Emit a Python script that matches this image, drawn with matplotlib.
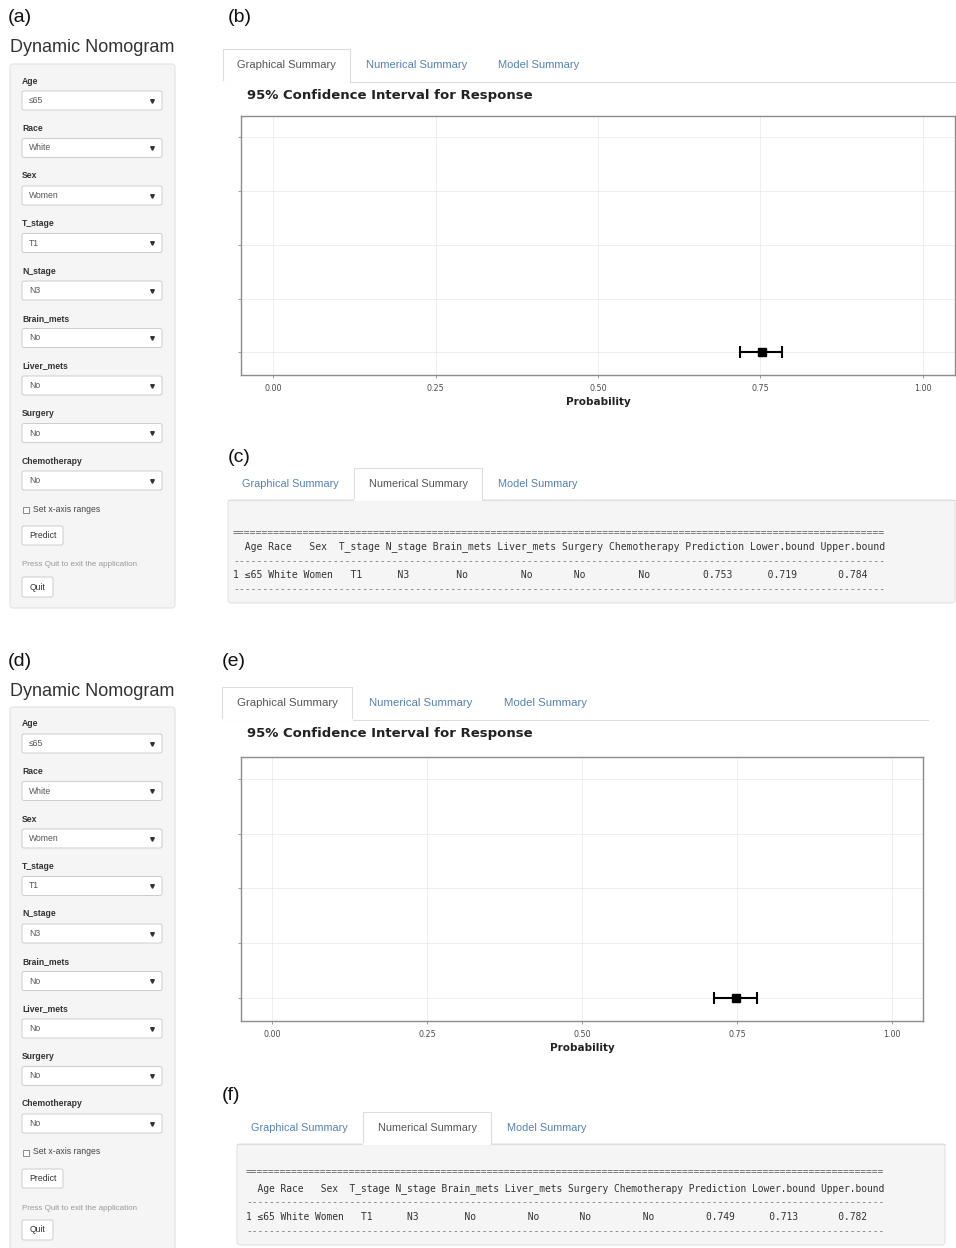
import numpy as np
import matplotlib.pyplot as plt
from matplotlib.patches import FancyBboxPatch, Rectangle

W, H = 956, 1248
SANS = ["Liberation Sans", "DejaVu Sans"]
MONO = ["DejaVu Sans Mono", "DejaVu Sans"]

# ---- app inputs ----
input_labels = ["Age", "Race", "Sex", "T_stage", "N_stage",
                "Brain_mets", "Liver_mets", "Surgery", "Chemotherapy"]
input_values = ["≤65", "White", "Women", "T1", "N3", "No", "No", "No", "No"]
tab_names = ["Graphical Summary", "Numerical Summary", "Model Summary"]

# ---- prediction with 95% CI, one entry per run ----
prediction = [0.753, 0.749]
lower_bound = [0.719, 0.713]
upper_bound = [0.784, 0.782]

x_ticks = [0.00, 0.25, 0.50, 0.75, 1.00]
x_tick_labels = ["0.00", "0.25", "0.50", "0.75", "1.00"]
y_levels = [1, 2, 3, 4, 5]

fig = plt.figure(figsize=(W / 100, H / 100), dpi=100)
fig.patch.set_facecolor("white")

# full-page canvas in pixel units (y down)
cv = fig.add_axes([0, 0, 1, 1])
cv.set_xlim(0, W)
cv.set_ylim(H, 0)
cv.axis("off")


def px_axes(x0, y0, x1, y1):
    return fig.add_axes([x0 / W, 1 - y1 / H, (x1 - x0) / W, (y1 - y0) / H])


def rbox(x, y, w, h, fc, ec, lw=0.8, r=3, z=1):
    p = FancyBboxPatch((x, y), w, h, boxstyle=f"round,pad=0,rounding_size={r}",
                       fc=fc, ec=ec, lw=lw, zorder=z)
    cv.add_patch(p)
    return p


def panel_label(x, y, s):
    cv.text(x, y, s, fontsize=14, family=SANS, color="#111", va="center", ha="left")


# ---- sidebar ----
def sidebar(dy):
    cv.text(10, 48 + dy, "Dynamic Nomogram", fontsize=13, family=SANS,
            color="#333", va="center")
    rbox(10, 64 + dy, 165, 544, "#f5f5f5", "#e3e3e3")
    for i, (lab, val) in enumerate(zip(input_labels, input_values)):
        y = 81 + 47.5 * i + dy
        cv.text(22, y, lab, fontsize=6.2, fontweight="bold", family=SANS,
                color="#333", va="center", zorder=3)
        rbox(22, y + 10, 140, 19, "white", "#cccccc", lw=0.7, r=2, z=2)
        cv.text(29, y + 19.5, val, fontsize=6.2, family=SANS, color="#555",
                va="center", zorder=3)
        cv.plot([152], [y + 19.5], marker="v", ms=2.6, color="#333", zorder=3)
    cv.add_patch(Rectangle((23, 507 + dy), 6, 6, fc="white", ec="#777", lw=0.6, zorder=3))
    cv.text(33, 509 + dy, "Set x-axis ranges", fontsize=6.2, family=SANS,
            color="#444", va="center", zorder=3)
    rbox(22, 526 + dy, 41, 19, "white", "#cccccc", lw=0.7, r=2, z=2)
    cv.text(42.5, 535.5 + dy, "Predict", fontsize=6.2, family=SANS, color="#333",
            ha="center", va="center", zorder=3)
    cv.text(22, 565 + dy, "Press Quit to exit the application", fontsize=5.8,
            family=SANS, color="#999", va="center", zorder=3)
    rbox(22, 577 + dy, 31, 20, "white", "#cccccc", lw=0.7, r=2, z=2)
    cv.text(37.5, 587 + dy, "Quit", fontsize=6.2, family=SANS, color="#333",
            ha="center", va="center", zorder=3)


# ---- nav tabs ----
def tabs(left, top, bottom, right, s, active):
    widths = [127 * s, 130 * s, 110 * s]
    x = left
    cv.plot([left, right], [bottom, bottom], color="#dddddd", lw=0.8, zorder=2)
    for i, (name, w) in enumerate(zip(tab_names, widths)):
        if i == active:
            cv.plot([x, x, x + w, x + w], [bottom, top, top, bottom],
                    color="#dddddd", lw=0.8, zorder=3)
            cv.plot([x + 0.6, x + w - 0.6], [bottom, bottom], color="white",
                    lw=1.4, zorder=3)
            col = "#555555"
        else:
            col = "#5581b0"
        cv.text(x + w / 2, (top + bottom) / 2, name, fontsize=8 * s, family=SANS,
                color=col, ha="center", va="center", zorder=4)
        x += w + 2


# ---- CI plot ----
def ci_plot(box, k, title_y):
    cv.text(247, title_y, "95% Confidence Interval for Response", fontsize=9.5,
            fontweight="bold", family="DejaVu Sans", color="#222", va="center")
    ax = px_axes(*box)
    xerr = [[prediction[k] - lower_bound[k]], [upper_bound[k] - prediction[k]]]
    ax.errorbar([prediction[k]], [y_levels[0]], xerr=xerr, fmt="s", color="black",
                ms=5.5, capsize=4.2, elinewidth=1.5, capthick=1.5, zorder=3)
    ax.set_xlim(-0.05, 1.05)
    ax.set_ylim(0.58, 5.4)
    ax.set_xticks(x_ticks, labels=x_tick_labels)
    ax.set_yticks(y_levels, labels=[""] * len(y_levels))
    ax.grid(color="#ebebeb", lw=0.6)
    ax.set_axisbelow(True)
    for sp in ax.spines.values():
        sp.set_color("#8c8c8c")
        sp.set_linewidth(1.0)
    ax.tick_params(length=2.5, width=0.6, color="#8c8c8c", labelsize=5.8,
                   labelcolor="#4d4d4d", pad=4)
    ax.set_xlabel("Probability", fontsize=7.5, fontweight="bold", labelpad=3,
                  color="#222", family="DejaVu Sans")
    return ax


# ---- numerical summary table ----
def centered(s, w, right_bias=False):
    pad = w - len(s)
    left = (pad + 1) // 2 if right_bias else pad // 2
    return " " * left + s + " " * (pad - left)


def table_panel(x0, y0, x1, y1, k, tx, line_ys, fs):
    rbox(x0, y0, x1 - x0, y1 - y0, "#f5f5f5", "#e3e3e3", z=1)
    heads = [""] + input_labels + ["Prediction", "Lower.bound", "Upper.bound"]
    nums = [prediction[k], lower_bound[k], upper_bound[k]]
    vals = ["1"] + input_values + [f"{v:.3f}" for v in nums]
    widths = [max(len(h), len(v)) for h, v in zip(heads, vals)]
    n_num = len(nums)
    header = " ".join(centered(h, w) for h, w in zip(heads, widths))
    row = " ".join(
        v.ljust(w) if i == 0 else centered(v, w, right_bias=i >= len(vals) - n_num)
        for i, (v, w) in enumerate(zip(vals, widths)))
    lines = ["=" * len(header), header, "-" * len(header), row, "-" * len(header)]
    colors = ["#666", "#333", "#777", "#333", "#777"]
    for s, y, c in zip(lines, line_ys, colors):
        cv.text(tx, y, s, fontsize=fs, family=MONO, color=c, va="center", zorder=3)


# top half
panel_label(8, 18, "(a)")
sidebar(0)
panel_label(228, 18, "(b)")
tabs(223, 49, 82, 955, 1.0, 0)
ci_plot((241, 116, 955, 375), 0, 95)
panel_label(228, 457, "(c)")
table_panel(228, 500, 955, 603, 0, 233, [533, 547, 561, 575, 589], 7.05)
tabs(228, 468, 500, 955, 0.98, 1)

# bottom half
panel_label(8, 661, "(d)")
sidebar(643)
panel_label(222, 661, "(e)")
tabs(222, 687, 720, 928, 1.025, 0)
ci_plot((241, 757, 923, 1021), 1, 734)
panel_label(222, 1096, "(f)")
table_panel(237, 1144, 945, 1245, 1, 246, [1172, 1189, 1202, 1217, 1231], 6.95)
tabs(237, 1112, 1144, 945, 0.98, 1)

fig.savefig("out.png", dpi=100, facecolor="white")
